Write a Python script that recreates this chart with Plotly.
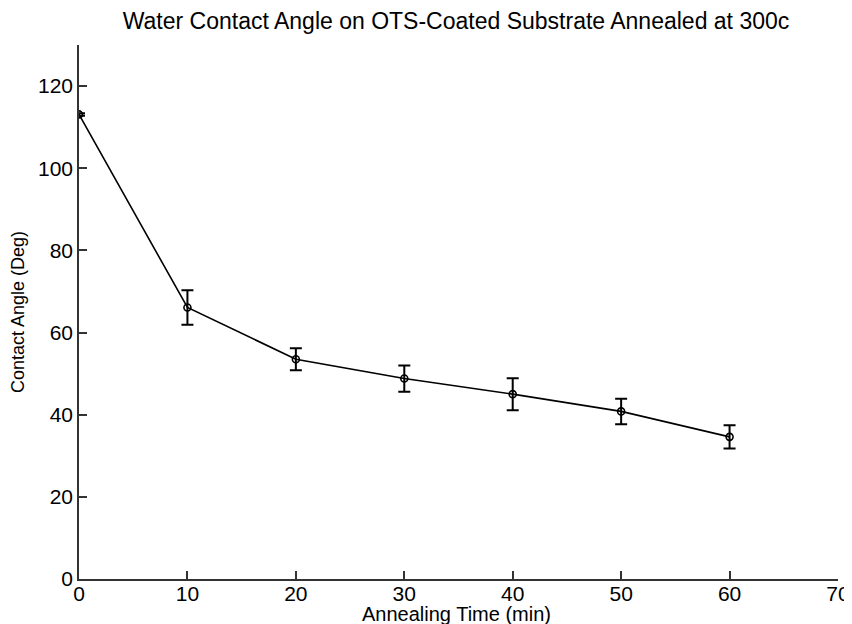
import plotly.graph_objects as go

time_min = [0, 10, 20, 30, 40, 50, 60]
contact_angle = [113.1, 66.1, 53.5, 48.8, 45.0, 40.8, 34.6]
angle_err = [0.3, 4.2, 2.7, 3.2, 3.9, 3.1, 2.85]

x_ticks = [0, 10, 20, 30, 40, 50, 60, 70]
y_ticks = [0, 20, 40, 60, 80, 100, 120]

font_family = "Liberation Sans, Arial, Helvetica, sans-serif"

# The page body has an 8px default margin, so the figure is sized to the
# remaining window area.
W, H = 844, 616
ML, MR, MT, MB = 71, 14, 37, 45
plot_w = W - ML - MR
plot_h = H - MT - MB

fig = go.Figure()
fig.add_trace(go.Scatter(
    x=time_min, y=contact_angle,
    mode="lines+markers",
    line=dict(color="black", width=1.6),
    marker=dict(symbol="circle-open", size=7, color="black", line=dict(width=1.6)),
    error_y=dict(type="data", array=angle_err, visible=True,
                 color="black", thickness=2, width=6),
    showlegend=False,
))

axis_color = "#333333"
fig.update_layout(
    width=W, height=H,
    margin=dict(l=ML, r=MR, t=MT, b=MB, autoexpand=False),
    paper_bgcolor="white", plot_bgcolor="white",
    font=dict(family=font_family, color="black"),
    title=dict(text="Water Contact Angle on OTS-Coated Substrate Annealed at 300c",
               x=448 / W, xanchor="center",
               y=1 - 13 / H, yanchor="middle", yref="container",
               font=dict(size=23, color="black")),
    xaxis=dict(range=[0, 70], tickvals=x_ticks, ticktext=[str(v) for v in x_ticks],
               automargin=False,
               showgrid=False, zeroline=False, showline=True, linecolor=axis_color, linewidth=1.5,
               ticks="inside", ticklen=8, tickwidth=1.5, tickcolor=axis_color,
               ticklabelstandoff=-5,
               tickfont=dict(size=21, color="black")),
    yaxis=dict(range=[0, 130], tickvals=y_ticks, ticktext=[str(v) for v in y_ticks],
               automargin=False,
               showgrid=False, zeroline=False, showline=True, linecolor=axis_color, linewidth=1.5,
               ticks="inside", ticklen=8, tickwidth=1.5, tickcolor=axis_color,
               tickfont=dict(size=21, color="black")),
    annotations=[
        dict(text="Annealing Time (min)", xref="paper", yref="paper",
             x=(448 - ML) / plot_w, y=-(606 - (MT + plot_h)) / plot_h,
             xanchor="center", yanchor="middle", showarrow=False,
             font=dict(size=20, color="black")),
        dict(text="Contact Angle (Deg)", xref="paper", yref="paper",
             x=(10 - ML) / plot_w, y=(MT + plot_h - 304) / plot_h,
             xanchor="center", yanchor="middle", showarrow=False, textangle=-90,
             font=dict(size=18, color="black")),
    ],
)

fig.write_html("out.html",
               post_script="document.documentElement.style.overflow='hidden';")
